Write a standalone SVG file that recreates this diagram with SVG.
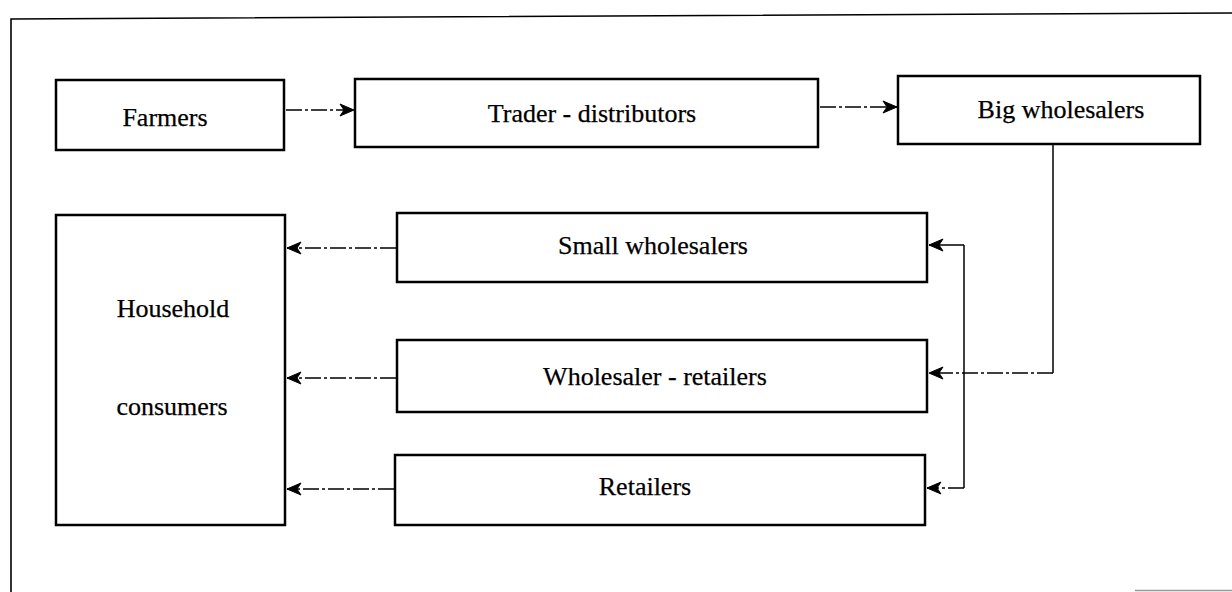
<svg xmlns="http://www.w3.org/2000/svg" width="1232" height="592" viewBox="0 0 1232 592">
<defs>
<style>
.box{fill:#fff;stroke:#000;stroke-width:2.5}
.lbl{font-family:"Liberation Serif","Times New Roman",serif;font-size:26px;fill:#000;text-anchor:middle;stroke:#000;stroke-width:0.25}
.dash{fill:none;stroke:#000;stroke-width:1.3;stroke-dasharray:16 3 3 3}
.solid{fill:none;stroke:#000;stroke-width:1.5}
</style>
<marker id="ah" viewBox="-1 -1 16 14" refX="14" refY="6" markerWidth="16" markerHeight="14" markerUnits="userSpaceOnUse" orient="auto">
<path d="M0,0 L14,6 L0,12 L4,6 Z" fill="#000" stroke="#000" stroke-width="1" stroke-linejoin="round"/>
</marker>
</defs>
<rect width="1232" height="592" fill="#fff"/>
<path d="M11,592 L11,19 L1232,13" fill="none" stroke="#000" stroke-width="1.6"/>
<line x1="1135" y1="590.5" x2="1232" y2="590.5" stroke="#999" stroke-width="1.5"/>

<g id="connectors">
<line class="dash" x1="286" y1="110" x2="354" y2="110" marker-end="url(#ah)"/>
<line class="dash" x1="820" y1="107" x2="897" y2="107" marker-end="url(#ah)"/>
<path class="solid" d="M1053,145 L1053,373"/>
<path class="dash" d="M1053,373 L929,373" marker-end="url(#ah)"/>
<path class="solid" d="M964,488 L964,245"/>
<path class="solid" d="M964,245 L929,245" marker-end="url(#ah)"/>
<path class="dash" d="M964,488 L927,488" marker-end="url(#ah)"/>
<line class="dash" x1="396" y1="248" x2="287" y2="248" marker-end="url(#ah)"/>
<line class="dash" x1="396" y1="378" x2="287" y2="378" marker-end="url(#ah)"/>
<line class="dash" x1="394" y1="489" x2="287" y2="489" marker-end="url(#ah)"/>
</g>

<g id="farmers">
<rect class="box" x="56" y="80" width="228" height="70"/>
<text class="lbl" x="165" y="126">Farmers</text>
</g>
<g id="trader-distributors">
<rect class="box" x="355" y="79" width="463" height="68"/>
<text class="lbl" x="592" y="122">Trader - distributors</text>
</g>
<g id="big-wholesalers">
<rect class="box" x="898" y="76" width="302" height="68"/>
<text class="lbl" x="1061" y="118">Big wholesalers</text>
</g>
<g id="household-consumers">
<rect class="box" x="56" y="215" width="229" height="310"/>
<text class="lbl" x="173" y="317">Household</text>
<text class="lbl" x="172" y="415">consumers</text>
</g>
<g id="small-wholesalers">
<rect class="box" x="397" y="213" width="530" height="69"/>
<text class="lbl" x="653" y="254">Small wholesalers</text>
</g>
<g id="wholesaler-retailers">
<rect class="box" x="397" y="340" width="530" height="72"/>
<text class="lbl" x="655" y="385">Wholesaler - retailers</text>
</g>
<g id="retailers">
<rect class="box" x="395" y="455" width="530" height="70"/>
<text class="lbl" x="645" y="495">Retailers</text>
</g>
</svg>
